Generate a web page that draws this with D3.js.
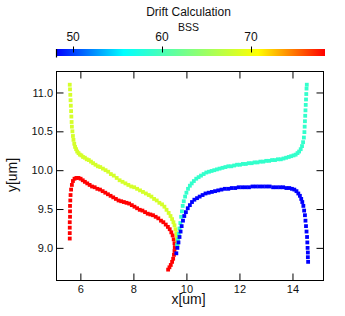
<!DOCTYPE html>
<html>
<head>
<meta charset="utf-8">
<script src="https://cdn.jsdelivr.net/npm/d3@7"></script>
<style>
  html, body { margin: 0; padding: 0; background: #fff; }
  svg { display: block; font-family: "Liberation Sans", Arial, sans-serif; }
</style>
</head>
<body>
<svg id="chart" width="345" height="316"></svg>
<script>
// ---------- data ----------
const chartTitle = "Drift Calculation";
const colorTitle = "BSS";
const xLabel = "x[um]";
const yLabel = "y[um]";
const xTicks = [6, 8, 10, 12, 14];
const yTicks = [9.0, 9.5, 10.0, 10.5, 11.0];
const colorTicks = [50, 60, 70];
const xDomain = [5.10, 15.17];
const yDomain = [8.58, 11.27];
const colorDomain = [48.13, 78.33];

const seriesNames = ["red", "yellow", "cyan", "blue"];
const seriesBSS = [78.33, 68.3, 58.7, 48.13];

const redPoints = [
  [5.60,9.12],[5.60,9.19],[5.60,9.26],[5.60,9.33],[5.61,9.40],[5.61,9.47],[5.61,9.54],[5.62,9.61],
  [5.63,9.68],[5.65,9.75],[5.68,9.81],[5.72,9.86],[5.78,9.89],[5.85,9.90],[5.93,9.90],[6.01,9.89],
  [6.09,9.87],[6.17,9.85],[6.26,9.83],[6.35,9.81],[6.44,9.79],[6.54,9.78],[6.64,9.76],[6.74,9.75],
  [6.84,9.73],[6.94,9.71],[7.04,9.69],[7.14,9.67],[7.24,9.65],[7.34,9.63],[7.44,9.61],[7.54,9.60],
  [7.64,9.59],[7.74,9.58],[7.84,9.57],[7.94,9.55],[8.04,9.53],[8.14,9.51],[8.24,9.49],[8.34,9.48],
  [8.44,9.46],[8.54,9.44],[8.64,9.43],[8.74,9.42],[8.84,9.40],[8.94,9.38],[9.04,9.35],[9.13,9.33],
  [9.22,9.30],[9.30,9.27],[9.37,9.24],[9.43,9.20],[9.48,9.16],[9.52,9.11],[9.55,9.06],[9.56,9.01],
  [9.55,8.96],[9.53,8.91],[9.50,8.86],[9.46,8.82],[9.41,8.78],[9.36,8.75],[9.31,8.72]
];
const yellowPoints = [
  [5.60,11.10],[5.61,11.04],[5.62,10.97],[5.63,10.90],[5.64,10.83],[5.65,10.76],[5.66,10.69],[5.67,10.62],
  [5.68,10.56],[5.70,10.50],[5.72,10.44],[5.74,10.39],[5.77,10.34],[5.80,10.30],[5.84,10.27],[5.88,10.24],
  [5.93,10.22],[5.98,10.20],[6.04,10.19],[6.10,10.17],[6.17,10.16],[6.24,10.14],[6.32,10.13],[6.40,10.11],
  [6.48,10.09],[6.57,10.07],[6.66,10.05],[6.75,10.04],[6.85,10.02],[6.95,10.00],[7.05,9.98],[7.15,9.95],
  [7.26,9.93],[7.37,9.90],[7.48,9.87],[7.59,9.85],[7.70,9.83],[7.81,9.81],[7.92,9.79],[8.03,9.78],
  [8.14,9.76],[8.25,9.74],[8.36,9.72],[8.47,9.70],[8.58,9.68],[8.68,9.66],[8.78,9.63],[8.88,9.61],
  [8.98,9.58],[9.08,9.56],[9.17,9.53],[9.25,9.49],[9.33,9.45],[9.40,9.41],[9.46,9.37],[9.51,9.33],
  [9.55,9.29],[9.59,9.24],[9.62,9.19],[9.64,9.14],[9.66,9.09],[9.67,9.04]
];
const cyanPoints = [
  [9.65,9.04],[9.68,9.11],[9.71,9.18],[9.74,9.25],[9.77,9.32],[9.80,9.40],[9.83,9.47],[9.86,9.54],
  [9.90,9.60],[9.95,9.66],[10.00,9.71],[10.06,9.76],[10.13,9.80],[10.20,9.83],[10.28,9.86],[10.37,9.89],
  [10.46,9.91],[10.55,9.93],[10.65,9.95],[10.75,9.97],[10.85,9.98],[10.95,9.99],[11.05,10.00],[11.15,10.01],
  [11.25,10.02],[11.36,10.03],[11.47,10.04],[11.58,10.05],[11.69,10.05],[11.80,10.06],[11.91,10.07],[12.02,10.07],
  [12.13,10.08],[12.24,10.08],[12.35,10.09],[12.46,10.09],[12.57,10.10],[12.68,10.10],[12.79,10.11],[12.90,10.11],
  [13.01,10.12],[13.12,10.12],[13.23,10.13],[13.34,10.13],[13.45,10.14],[13.56,10.14],[13.66,10.15],[13.76,10.16],
  [13.86,10.17],[13.95,10.18],[14.04,10.19],[14.12,10.20],[14.19,10.22],[14.25,10.24],[14.31,10.27],[14.36,10.31],
  [14.40,10.36],[14.43,10.42],[14.45,10.49],[14.46,10.56],[14.47,10.63],[14.48,10.70],[14.49,10.77],[14.50,10.84],
  [14.51,10.91],[14.52,10.98],[14.53,11.05],[14.54,11.10]
];
const bluePoints = [
  [9.62,8.93],[9.66,9.00],[9.70,9.07],[9.74,9.14],[9.78,9.21],[9.82,9.28],[9.87,9.35],[9.92,9.41],
  [9.98,9.46],[10.05,9.51],[10.13,9.55],[10.21,9.59],[10.30,9.62],[10.40,9.64],[10.50,9.66],[10.61,9.68],
  [10.72,9.70],[10.84,9.71],[10.96,9.72],[11.08,9.73],[11.20,9.74],[11.32,9.75],[11.45,9.76],[11.58,9.76],
  [11.71,9.77],[11.84,9.77],[11.97,9.78],[12.10,9.78],[12.23,9.78],[12.36,9.78],[12.49,9.79],[12.62,9.79],
  [12.75,9.79],[12.88,9.79],[13.01,9.79],[13.14,9.79],[13.27,9.78],[13.40,9.78],[13.53,9.78],[13.65,9.78],
  [13.77,9.77],[13.88,9.77],[13.98,9.76],[14.07,9.75],[14.15,9.73],[14.22,9.70],[14.28,9.67],[14.33,9.63],
  [14.37,9.59],[14.41,9.54],[14.44,9.48],[14.47,9.42],[14.49,9.35],[14.51,9.28],[14.53,9.21],[14.55,9.14],
  [14.56,9.07],[14.57,9.00],[14.58,8.94],[14.58,8.88],[14.59,8.82]
];
const seriesPoints = [redPoints, yellowPoints, cyanPoints, bluePoints];

// ---------- layout ----------
const svg = d3.select("#chart");
const frame = { left: 56.5, right: 323.5, top: 71.5, bottom: 280.5 };
const bar = { left: 56.5, right: 325, top: 49, bottom: 56 };
const font = '"Liberation Sans", Arial, sans-serif';

const x = d3.scaleLinear().domain(xDomain).range([frame.left, frame.right]);
const y = d3.scaleLinear().domain(yDomain).range([frame.bottom, frame.top]);
const cx = d3.scaleLinear().domain(colorDomain).range([bar.left, bar.right]);

// colour map: blue -> cyan -> light green -> yellow -> red
const cmapInterp = d3.scaleLinear()
  .domain([0, 0.25, 0.5, 0.75, 1])
  .range(["#0000ff", "#00ffff", "#80ff80", "#ffff00", "#ff0000"])
  .interpolate(d3.interpolateRgb);
const color = v => cmapInterp((v - colorDomain[0]) / (colorDomain[1] - colorDomain[0]));

// ---------- titles ----------
svg.append("text").attr("x", 188.5).attr("y", 16).attr("text-anchor", "middle")
  .attr("font-size", 12).attr("fill", "#111").text(chartTitle);
svg.append("text").attr("x", 188.5).attr("y", 31).attr("text-anchor", "middle")
  .attr("font-size", 10.5).attr("fill", "#111").text(colorTitle);

// ---------- colour bar ----------
const grad = svg.append("defs").append("linearGradient").attr("id", "cbar")
  .attr("x1", "0%").attr("x2", "100%").attr("y1", "0%").attr("y2", "0%");
d3.range(0, 1.0001, 0.05).forEach(t => {
  grad.append("stop").attr("offset", (t * 100) + "%").attr("stop-color", cmapInterp(t));
});
svg.append("rect").attr("x", bar.left).attr("y", bar.top)
  .attr("width", bar.right - bar.left).attr("height", bar.bottom - bar.top)
  .attr("fill", "url(#cbar)");
svg.append("line").attr("x1", bar.left).attr("x2", bar.left)
  .attr("y1", bar.top).attr("y2", bar.bottom + 1.5).attr("stroke", "#000").attr("stroke-width", 1.2);
const cAxis = svg.append("g");
colorTicks.forEach(t => {
  cAxis.append("line").attr("x1", Math.round(cx(t)) + 0.5).attr("x2", Math.round(cx(t)) + 0.5)
    .attr("y1", 46.5).attr("y2", 52.5).attr("stroke", "#000").attr("stroke-width", 1);
  cAxis.append("text").attr("x", cx(t)).attr("y", 41).attr("text-anchor", "middle")
    .attr("font-size", 12).attr("fill", "#111").text(t);
});

// ---------- series ----------
const ms = 3.8;
seriesPoints.forEach((pts, i) => {
  svg.append("g").attr("fill", color(seriesBSS[i]))
    .selectAll("rect").data(pts).join("rect")
    .attr("x", d => x(d[0]) - ms / 2).attr("y", d => y(d[1]) - ms / 2)
    .attr("width", ms).attr("height", ms);
});

// ---------- frame and axes ----------
svg.append("rect").attr("x", frame.left).attr("y", frame.top)
  .attr("width", frame.right - frame.left).attr("height", frame.bottom - frame.top)
  .attr("fill", "none").attr("stroke", "#000").attr("stroke-width", 1);

const tl = 7;
const axB = svg.append("g").attr("transform", `translate(0,${frame.bottom})`)
  .call(d3.axisBottom(x).tickValues(xTicks).tickSizeInner(-tl).tickSizeOuter(0).tickPadding(5).tickFormat(d3.format("d")));
const axT = svg.append("g").attr("transform", `translate(0,${frame.top})`)
  .call(d3.axisTop(x).tickValues(xTicks).tickSizeInner(-tl).tickSizeOuter(0).tickFormat(""));
const axL = svg.append("g").attr("transform", `translate(${frame.left},0)`)
  .call(d3.axisLeft(y).tickValues(yTicks).tickSizeInner(-tl).tickSizeOuter(0).tickPadding(3.5).tickFormat(d3.format(".1f")));
const axR = svg.append("g").attr("transform", `translate(${frame.right},0)`)
  .call(d3.axisRight(y).tickValues(yTicks).tickSizeInner(-tl).tickSizeOuter(0).tickFormat(""));
[axB, axT, axL, axR].forEach(g => {
  g.select(".domain").remove();
  g.selectAll("line").attr("stroke", "#000");
  g.selectAll("text").attr("font-family", font).attr("font-size", 11).attr("fill", "#111");
});

svg.append("text").attr("x", 188.5).attr("y", 304).attr("text-anchor", "middle")
  .attr("font-size", 14).attr("fill", "#111").text(xLabel);
svg.append("text").attr("transform", `translate(17,175) rotate(-90)`).attr("text-anchor", "middle")
  .attr("font-size", 14).attr("fill", "#111").text(yLabel);
</script>
</body>
</html>
